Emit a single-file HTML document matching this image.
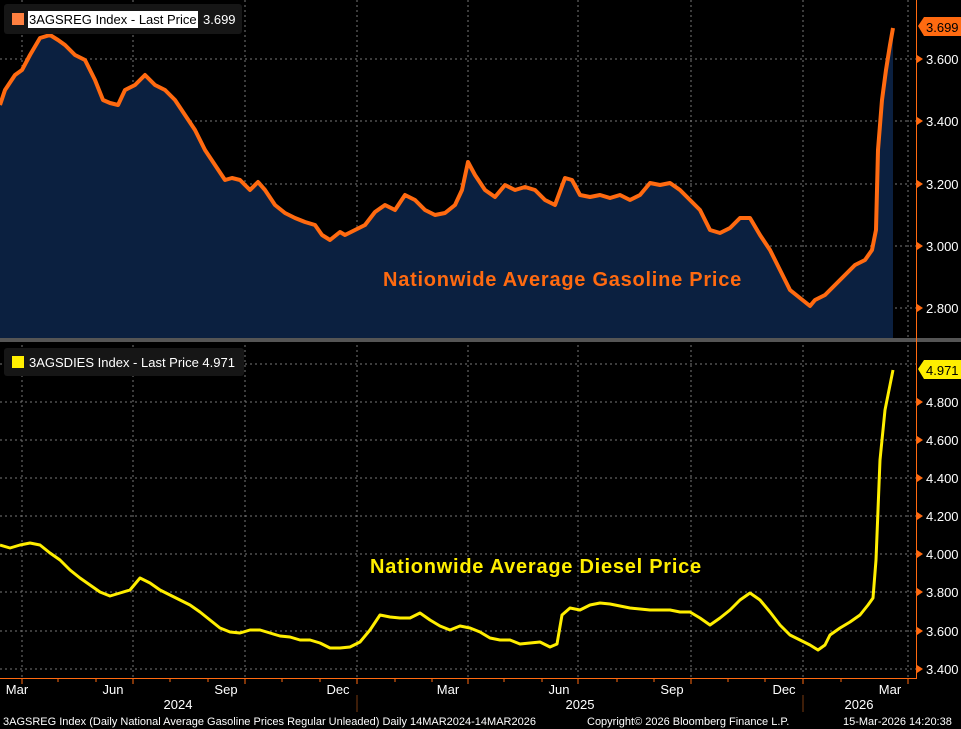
<!DOCTYPE html>
<html><head><meta charset="utf-8"><style>
body{margin:0;background:#000;width:961px;height:729px;overflow:hidden}
svg{display:block;font-family:"Liberation Sans",sans-serif}
</style></head><body>
<svg width="961" height="729" viewBox="0 0 961 729">
<rect width="961" height="729" fill="#000"/>
<g stroke="#777" stroke-dasharray="2,3" stroke-width="1">
<line x1="22" y1="0" x2="22" y2="678"/><line x1="133" y1="0" x2="133" y2="678"/><line x1="245" y1="0" x2="245" y2="678"/><line x1="357" y1="0" x2="357" y2="678"/><line x1="468" y1="0" x2="468" y2="678"/><line x1="578" y1="0" x2="578" y2="678"/><line x1="691" y1="0" x2="691" y2="678"/><line x1="803" y1="0" x2="803" y2="678"/><line x1="908" y1="0" x2="908" y2="678"/>
<line x1="0" y1="59" x2="916" y2="59"/><line x1="0" y1="121" x2="916" y2="121"/><line x1="0" y1="184" x2="916" y2="184"/><line x1="0" y1="246" x2="916" y2="246"/><line x1="0" y1="308" x2="916" y2="308"/>
<line x1="0" y1="364" x2="916" y2="364"/><line x1="0" y1="402" x2="916" y2="402"/><line x1="0" y1="440" x2="916" y2="440"/><line x1="0" y1="478" x2="916" y2="478"/><line x1="0" y1="516" x2="916" y2="516"/><line x1="0" y1="554" x2="916" y2="554"/><line x1="0" y1="592" x2="916" y2="592"/><line x1="0" y1="631" x2="916" y2="631"/><line x1="0" y1="669" x2="916" y2="669"/>
</g>
<polygon fill="#0b2040" points="0,338 0,105 5,90 15,75 22,70 30,55 40,38 50,35 58,40 65,45 75,55 85,60 95,80 103,100 110,103 118,105 125,90 135,85 145,75 155,85 165,90 175,100 185,115 195,130 205,150 215,165 225,180 232,178 240,180 250,190 258,182 265,190 275,205 285,213 295,218 305,222 315,225 322,235 330,240 340,232 345,235 355,230 365,225 375,212 385,205 395,210 405,195 415,200 425,210 435,215 445,213 455,205 462,190 468,162 475,175 485,190 495,197 505,185 515,190 525,187 535,190 545,200 555,205 565,178 572,180 580,195 590,197 600,195 610,198 620,195 630,200 640,195 650,183 660,185 670,183 680,190 690,200 700,210 710,230 720,233 730,228 740,218 750,218 760,235 770,250 780,270 790,290 800,298 810,306 815,300 825,295 835,285 845,275 855,265 865,260 872,250 876,230 878,150 882,100 886,70 890,45 893,28 893,338"/>
<polyline fill="none" stroke="#ff6a10" stroke-width="4" stroke-linejoin="round" points="0,105 5,90 15,75 22,70 30,55 40,38 50,35 58,40 65,45 75,55 85,60 95,80 103,100 110,103 118,105 125,90 135,85 145,75 155,85 165,90 175,100 185,115 195,130 205,150 215,165 225,180 232,178 240,180 250,190 258,182 265,190 275,205 285,213 295,218 305,222 315,225 322,235 330,240 340,232 345,235 355,230 365,225 375,212 385,205 395,210 405,195 415,200 425,210 435,215 445,213 455,205 462,190 468,162 475,175 485,190 495,197 505,185 515,190 525,187 535,190 545,200 555,205 565,178 572,180 580,195 590,197 600,195 610,198 620,195 630,200 640,195 650,183 660,185 670,183 680,190 690,200 700,210 710,230 720,233 730,228 740,218 750,218 760,235 770,250 780,270 790,290 800,298 810,306 815,300 825,295 835,285 845,275 855,265 865,260 872,250 876,230 878,150 882,100 886,70 890,45 893,28"/>
<polyline fill="none" stroke="#ffee00" stroke-width="3" stroke-linejoin="round" points="0,545 10,548 20,545 30,543 40,545 50,553 60,560 70,570 80,578 90,585 100,592 110,596 120,593 130,590 140,578 150,583 160,590 170,595 180,600 190,605 200,612 210,620 220,628 230,632 240,633 250,630 260,630 270,633 280,636 290,637 300,640 310,640 320,643 330,648 340,648 350,647 360,642 370,630 380,615 390,617 400,618 410,618 420,613 430,620 440,626 450,630 460,626 470,628 480,632 490,638 500,640 510,640 520,644 530,643 540,642 550,647 557,644 562,615 570,608 580,610 590,605 600,603 610,604 620,606 630,608 640,609 650,610 660,610 670,610 680,612 690,612 700,618 710,625 720,618 730,610 740,600 750,593 760,600 770,612 780,625 790,635 800,640 810,645 818,650 825,645 830,635 840,628 850,622 860,615 868,605 873,598 876,560 880,460 885,410 890,385 893,370"/>
<rect x="0" y="338" width="961" height="4" fill="#555"/>
<line x1="916.5" y1="0" x2="916.5" y2="678" stroke="#ff6a10"/>
<line x1="0" y1="678.5" x2="917" y2="678.5" stroke="#ff6a10"/>
<g fill="#ff6a10"><polygon points="917,55 923,59 917,63"/><polygon points="917,117 923,121 917,125"/><polygon points="917,180 923,184 917,188"/><polygon points="917,242 923,246 917,250"/><polygon points="917,304 923,308 917,312"/>
<polygon points="917,398 923,402 917,406"/><polygon points="917,436 923,440 917,444"/><polygon points="917,474 923,478 917,482"/><polygon points="917,512 923,516 917,520"/><polygon points="917,550 923,554 917,558"/><polygon points="917,588 923,592 917,596"/><polygon points="917,627 923,631 917,635"/><polygon points="917,665 923,669 917,673"/></g>
<g fill="#fff" font-size="13"><text x="926" y="64">3.600</text><text x="926" y="126">3.400</text><text x="926" y="189">3.200</text><text x="926" y="251">3.000</text><text x="926" y="313">2.800</text>
<text x="926" y="407">4.800</text><text x="926" y="445">4.600</text><text x="926" y="483">4.400</text><text x="926" y="521">4.200</text><text x="926" y="559">4.000</text><text x="926" y="597">3.800</text><text x="926" y="636">3.600</text><text x="926" y="674">3.400</text></g>
<polygon points="918,26 924,17 961,17 961,36 924,36" fill="#ff6a10"/><text x="926" y="32" font-size="13" fill="#000">3.699</text>
<polygon points="918,369 924,360 961,360 961,379 924,379" fill="#ffee00"/><text x="926" y="375" font-size="13" fill="#000">4.971</text>
<rect x="4" y="4" width="238" height="30" rx="3" fill="#161616"/>
<rect x="12" y="13" width="12" height="12" fill="#ff8040"/>
<rect x="28" y="11" width="170" height="17" fill="#fff"/>
<text x="29" y="24" font-size="13" fill="#000">3AGSREG Index - Last Price</text><text x="203" y="24" font-size="13" fill="#fff">3.699</text>
<rect x="4" y="348" width="240" height="28" rx="3" fill="#161616"/>
<rect x="12" y="356" width="12" height="12" fill="#ffee00"/>
<text x="29" y="367" font-size="13" fill="#fff">3AGSDIES Index - Last Price 4.971</text>
<text x="383" y="286" font-size="20" font-weight="bold" letter-spacing="0.75" fill="#ff6a10">Nationwide Average Gasoline Price</text>
<text x="370" y="573" font-size="20" font-weight="bold" letter-spacing="0.75" fill="#ffee00">Nationwide Average Diesel Price</text>
<g stroke="#ff6a10"><line x1="22" y1="678" x2="22" y2="684"/><line x1="58" y1="678" x2="58" y2="682"/><line x1="96" y1="678" x2="96" y2="682"/><line x1="133" y1="678" x2="133" y2="684"/><line x1="170" y1="678" x2="170" y2="682"/><line x1="208" y1="678" x2="208" y2="682"/><line x1="245" y1="678" x2="245" y2="684"/><line x1="282" y1="678" x2="282" y2="682"/><line x1="320" y1="678" x2="320" y2="682"/><line x1="357" y1="678" x2="357" y2="684"/><line x1="395" y1="678" x2="395" y2="682"/><line x1="432" y1="678" x2="432" y2="682"/><line x1="468" y1="678" x2="468" y2="684"/><line x1="504" y1="678" x2="504" y2="682"/><line x1="542" y1="678" x2="542" y2="682"/><line x1="578" y1="678" x2="578" y2="684"/><line x1="617" y1="678" x2="617" y2="682"/><line x1="654" y1="678" x2="654" y2="682"/><line x1="691" y1="678" x2="691" y2="684"/><line x1="728" y1="678" x2="728" y2="682"/><line x1="765" y1="678" x2="765" y2="682"/><line x1="803" y1="678" x2="803" y2="684"/><line x1="841" y1="678" x2="841" y2="682"/><line x1="908" y1="678" x2="908" y2="684"/></g>
<g stroke="#7a3a10"><line x1="357" y1="695" x2="357" y2="712"/><line x1="803" y1="695" x2="803" y2="712"/></g>
<g fill="#fff" font-size="13" text-anchor="middle"><text x="17" y="694">Mar</text><text x="113" y="694">Jun</text><text x="226" y="694">Sep</text><text x="338" y="694">Dec</text><text x="448" y="694">Mar</text><text x="559" y="694">Jun</text><text x="672" y="694">Sep</text><text x="784" y="694">Dec</text><text x="890" y="694">Mar</text>
<text x="178" y="709">2024</text><text x="580" y="709">2025</text><text x="859" y="709">2026</text></g>
<g fill="#fff" font-size="11"><text x="3" y="725">3AGSREG Index (Daily National Average Gasoline Prices Regular Unleaded) Daily 14MAR2024-14MAR2026</text><text x="587" y="725">Copyright© 2026 Bloomberg Finance L.P.</text><text x="843" y="725">15-Mar-2026 14:20:38</text></g>
</svg>
</body></html>
